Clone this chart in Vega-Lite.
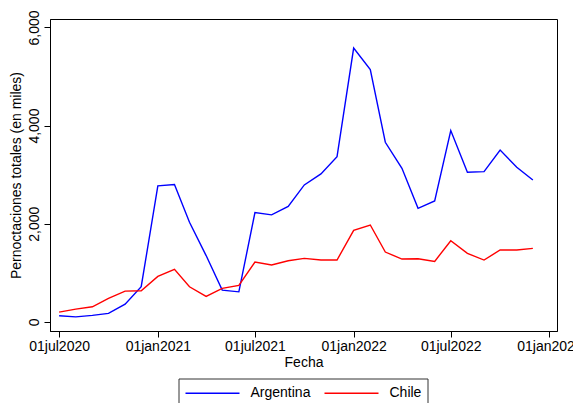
{
  "$schema": "https://vega.github.io/schema/vega-lite/v6.json",
  "autosize": {"type": "none"},
  "width": 507,
  "height": 312,
  "padding": {"left": 50, "top": 19, "right": 16, "bottom": 72},
  "background": "white",
  "config": {
    "font": "Liberation Sans",
    "view": {"stroke": "#000", "strokeWidth": 1},
    "axis": {"domainColor": "#000", "tickColor": "#000", "labelColor": "#000", "titleColor": "#000", "grid": false, "labelFontSize": 14, "titleFontSize": 14, "titleFontWeight": "normal", "tickSize": 6}
  },
  "data": {"values": [
    {"date": "2020-07-01T00:00", "pais": "Argentina", "v": 122},
    {"date": "2020-08-01T00:00", "pais": "Argentina", "v": 100},
    {"date": "2020-09-01T00:00", "pais": "Argentina", "v": 130},
    {"date": "2020-10-01T00:00", "pais": "Argentina", "v": 170},
    {"date": "2020-11-01T00:00", "pais": "Argentina", "v": 360},
    {"date": "2020-12-01T00:00", "pais": "Argentina", "v": 715},
    {"date": "2021-01-01T00:00", "pais": "Argentina", "v": 2770},
    {"date": "2021-02-01T00:00", "pais": "Argentina", "v": 2800},
    {"date": "2021-03-01T00:00", "pais": "Argentina", "v": 2030},
    {"date": "2021-04-01T00:00", "pais": "Argentina", "v": 1350},
    {"date": "2021-05-01T00:00", "pais": "Argentina", "v": 645},
    {"date": "2021-06-01T00:00", "pais": "Argentina", "v": 610},
    {"date": "2021-07-01T00:00", "pais": "Argentina", "v": 2225},
    {"date": "2021-08-01T00:00", "pais": "Argentina", "v": 2180},
    {"date": "2021-09-01T00:00", "pais": "Argentina", "v": 2353},
    {"date": "2021-10-01T00:00", "pais": "Argentina", "v": 2790},
    {"date": "2021-11-01T00:00", "pais": "Argentina", "v": 3014},
    {"date": "2021-12-01T00:00", "pais": "Argentina", "v": 3367},
    {"date": "2022-01-01T00:00", "pais": "Argentina", "v": 5580},
    {"date": "2022-02-01T00:00", "pais": "Argentina", "v": 5143},
    {"date": "2022-03-01T00:00", "pais": "Argentina", "v": 3660},
    {"date": "2022-04-01T00:00", "pais": "Argentina", "v": 3129},
    {"date": "2022-05-01T00:00", "pais": "Argentina", "v": 2313},
    {"date": "2022-06-01T00:00", "pais": "Argentina", "v": 2463},
    {"date": "2022-07-01T00:00", "pais": "Argentina", "v": 3898},
    {"date": "2022-08-01T00:00", "pais": "Argentina", "v": 3048},
    {"date": "2022-09-01T00:00", "pais": "Argentina", "v": 3061},
    {"date": "2022-10-01T00:00", "pais": "Argentina", "v": 3503},
    {"date": "2022-11-01T00:00", "pais": "Argentina", "v": 3150},
    {"date": "2022-12-01T00:00", "pais": "Argentina", "v": 2891},
    {"date": "2020-07-01T00:00", "pais": "Chile", "v": 197},
    {"date": "2020-08-01T00:00", "pais": "Chile", "v": 258},
    {"date": "2020-09-01T00:00", "pais": "Chile", "v": 306},
    {"date": "2020-10-01T00:00", "pais": "Chile", "v": 476},
    {"date": "2020-11-01T00:00", "pais": "Chile", "v": 625},
    {"date": "2020-12-01T00:00", "pais": "Chile", "v": 632},
    {"date": "2021-01-01T00:00", "pais": "Chile", "v": 925},
    {"date": "2021-02-01T00:00", "pais": "Chile", "v": 1068},
    {"date": "2021-03-01T00:00", "pais": "Chile", "v": 714},
    {"date": "2021-04-01T00:00", "pais": "Chile", "v": 517},
    {"date": "2021-05-01T00:00", "pais": "Chile", "v": 680},
    {"date": "2021-06-01T00:00", "pais": "Chile", "v": 741},
    {"date": "2021-07-01T00:00", "pais": "Chile", "v": 1218},
    {"date": "2021-08-01T00:00", "pais": "Chile", "v": 1157},
    {"date": "2021-09-01T00:00", "pais": "Chile", "v": 1245},
    {"date": "2021-10-01T00:00", "pais": "Chile", "v": 1292},
    {"date": "2021-11-01T00:00", "pais": "Chile", "v": 1259},
    {"date": "2021-12-01T00:00", "pais": "Chile", "v": 1259},
    {"date": "2022-01-01T00:00", "pais": "Chile", "v": 1864},
    {"date": "2022-02-01T00:00", "pais": "Chile", "v": 1973},
    {"date": "2022-03-01T00:00", "pais": "Chile", "v": 1422},
    {"date": "2022-04-01T00:00", "pais": "Chile", "v": 1279},
    {"date": "2022-05-01T00:00", "pais": "Chile", "v": 1286},
    {"date": "2022-06-01T00:00", "pais": "Chile", "v": 1231},
    {"date": "2022-07-01T00:00", "pais": "Chile", "v": 1653},
    {"date": "2022-08-01T00:00", "pais": "Chile", "v": 1394},
    {"date": "2022-09-01T00:00", "pais": "Chile", "v": 1259},
    {"date": "2022-10-01T00:00", "pais": "Chile", "v": 1463},
    {"date": "2022-11-01T00:00", "pais": "Chile", "v": 1463},
    {"date": "2022-12-01T00:00", "pais": "Chile", "v": 1496}
  ]},
  "mark": {"type": "line", "strokeWidth": 1.4},
  "encoding": {
    "x": {
      "field": "date", "type": "temporal", "title": "Fecha",
      "scale": {"domain": [{"year": 2020, "month": 6, "date": 14}, {"year": 2023, "month": 1, "date": 15}], "nice": false},
      "axis": {
        "values": [
          {"year": 2020, "month": 7, "date": 1},
          {"year": 2021, "month": 1, "date": 1},
          {"year": 2021, "month": 7, "date": 1},
          {"year": 2022, "month": 1, "date": 1},
          {"year": 2022, "month": 7, "date": 1},
          {"year": 2023, "month": 1, "date": 1}
        ],
        "labelExpr": "lower(timeFormat(datum.value, '%d%b%Y'))",
        "labelFlush": false, "labelOverlap": false, "labelPadding": 2, "titlePadding": 2
      }
    },
    "y": {
      "field": "v", "type": "quantitative", "title": "Pernoctaciones totales (en miles)",
      "scale": {"domain": [-188, 6173], "nice": false, "zero": false},
      "axis": {"values": [0, 2000, 4000, 6000], "format": ",d", "labelAngle": -90, "labelAlign": "center", "labelBaseline": "bottom", "labelPadding": 3, "titlePadding": 4}
    },
    "color": {
      "field": "pais", "type": "nominal",
      "scale": {"domain": ["Argentina", "Chile"], "range": ["#0000ff", "#ff0000"]},
      "legend": {
        "title": null, "orient": "none", "direction": "horizontal",
        "legendX": 128.5, "legendY": 359.5,
        "strokeColor": "#333", "fillColor": "white", "padding": 6,
        "symbolType": "M-1,0H6.2", "symbolSize": 225, "symbolStrokeWidth": 1.4,
        "labelFontSize": 14, "labelColor": "#000", "labelOffset": 49, "columnPadding": 11
      }
    }
  }
}
